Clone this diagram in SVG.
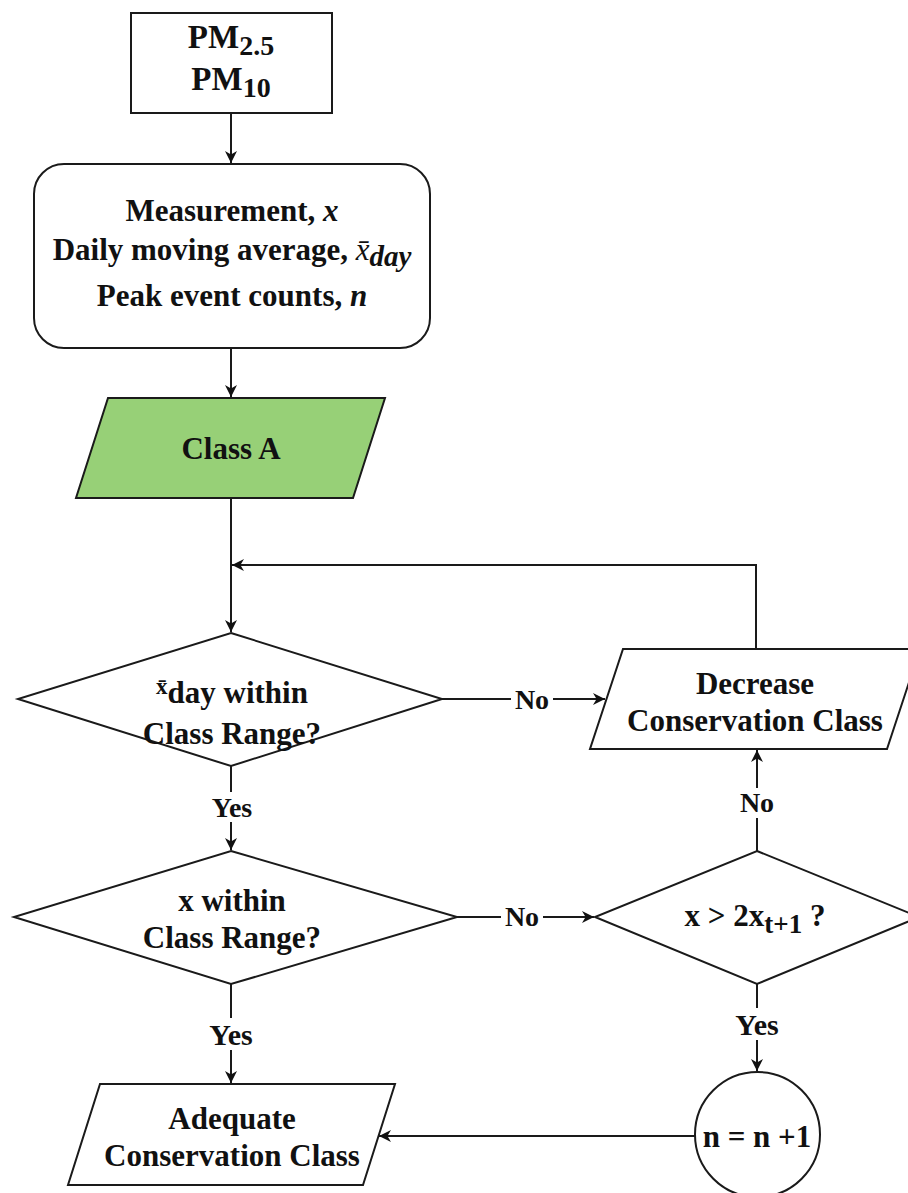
<svg xmlns="http://www.w3.org/2000/svg" width="908" height="1193" viewBox="0 0 908 1193">
<defs>
<marker id="arr" viewBox="0 0 10 10" refX="10" refY="5" markerWidth="13" markerHeight="12" markerUnits="userSpaceOnUse" orient="auto">
<path d="M0,0 L10,5 L0,10 L3,5 z" fill="#111"/>
</marker>
<style>
.s{fill:#fff;stroke:#1a1a1a;stroke-width:2}
.g{fill:#97d077;stroke:#1a1a1a;stroke-width:2}
.c{fill:none;stroke:#1a1a1a;stroke-width:2;marker-end:url(#arr)}
text{font-family:"Liberation Serif","Times New Roman",serif;font-weight:bold;fill:#111;text-anchor:middle}
.t{font-size:31px}
.l{font-size:28px}
.lb{font-size:30px}
.i{font-style:italic}
</style>
</defs>
<rect width="908" height="1193" fill="#fff"/>
<g id="connectors">
<path class="c" d="M231,113 V163"/>
<path class="c" d="M231,348 V397"/>
<path class="c" d="M231,498 V632"/>
<path class="c" d="M756,649 V565 H232"/>
<path class="c" d="M442,699 H605"/>
<path class="c" d="M231,766 V850"/>
<path class="c" d="M457,917 H594"/>
<path class="c" d="M757,851 V750"/>
<path class="c" d="M231,984 V1083"/>
<path class="c" d="M757,984 V1071"/>
<path class="c" d="M695,1136 H379"/>
<g id="labels">
<rect x="511" y="684" width="42" height="30" fill="#fff"/>
<text class="l" x="532" y="709">No</text>
<rect x="210" y="792" width="44" height="30" fill="#fff"/>
<text class="l" x="232" y="817">Yes</text>
<rect x="501" y="902" width="42" height="30" fill="#fff"/>
<text class="l" x="522" y="926">No</text>
<rect x="736" y="788" width="42" height="30" fill="#fff"/>
<text class="l" x="757" y="812">No</text>
<rect x="206" y="1018" width="50" height="32" fill="#fff"/>
<text class="lb" x="231" y="1045">Yes</text>
<rect x="732" y="1008" width="50" height="32" fill="#fff"/>
<text class="lb" x="757" y="1035">Yes</text>
</g>
</g>
<g id="pm">
<rect class="s" x="131" y="13" width="201" height="100"/>
<text class="t" x="231" y="48" style="font-size:33px">PM<tspan dy="7" style="font-size:28px">2.5</tspan></text>
<text class="t" x="231" y="90" style="font-size:33px">PM<tspan dy="7" style="font-size:28px">10</tspan></text>
</g>
<g id="measure">
<rect class="s" x="34" y="164" width="396" height="184" rx="30" ry="30"/>
<text class="t" x="232" y="221">Measurement, <tspan class="i">x</tspan></text>
<text class="t" x="232" y="260">Daily moving average, <tspan class="i" style="font-weight:normal">x̄</tspan><tspan class="i" dy="6" style="font-size:29px">day</tspan></text>
<text class="t" x="232" y="306">Peak event counts, <tspan class="i">n</tspan></text>
</g>
<g id="classA">
<polygon class="g" points="108,398 385,398 353,498 76,498"/>
<text class="t" x="231" y="459">Class A</text>
</g>
<g id="d1">
<polygon class="s" points="231,633 442,699 231,766 18,699"/>
<text class="t" x="232" y="703"><tspan dy="-9" style="font-size:23px">x̄</tspan><tspan dy="9">day within</tspan></text>
<text class="t" x="232" y="744">Class Range?</text>
</g>
<g id="decrease">
<polygon class="s" points="623,649 920,649 887,749 590,749"/>
<text class="t" x="755" y="694">Decrease</text>
<text class="t" x="755" y="731">Conservation Class</text>
</g>
<g id="d2">
<polygon class="s" points="231,851 457,917 231,984 14,917"/>
<text class="t" x="232" y="911">x within</text>
<text class="t" x="232" y="948">Class Range?</text>
</g>
<g id="d3">
<polygon class="s" points="757,851 919,917 757,984 595,917"/>
<text class="t" x="755" y="926">x &gt; 2x<tspan dy="7" style="font-size:27px">t+1</tspan><tspan dy="-7"> ?</tspan></text>
</g>
<g id="adequate">
<polygon class="s" points="100,1084 395,1084 363,1185 68,1185"/>
<text class="t" x="232" y="1129">Adequate</text>
<text class="t" x="232" y="1166">Conservation Class</text>
</g>
<g id="counter">
<circle class="s" cx="757.5" cy="1134.5" r="62.5"/>
<text class="t" x="757" y="1147">n = n +1</text>
</g>
</svg>
